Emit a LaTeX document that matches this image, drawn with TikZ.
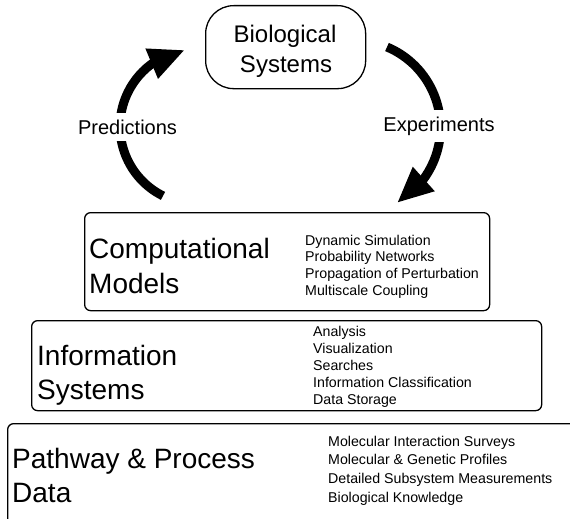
\documentclass[tikz,border=0pt]{standalone}
\usepackage{fontspec}
\setmainfont{Liberation Sans}
\usetikzlibrary{arrows.meta,bending}

\tikzset{
  layer/.style={draw, line width=1.3pt, rounded corners=6pt, anchor=north west, inner sep=0pt},
  big/.style={anchor=base west, inner sep=0pt, font=\fontsize{28}{34}\selectfont},
  item/.style={anchor=base west, inner sep=0pt, font=\fontsize{14.2}{17}\selectfont},
  toptext/.style={anchor=base, inner sep=0pt, font=\fontsize{24}{29}\selectfont},
  cycle/.style={line width=9pt, -{Triangle[length=36pt,width=30pt,flex]}},
  cyclabel/.style={fill=white, inner xsep=2pt, inner ysep=7pt, font=\fontsize{20}{24}\selectfont},
}

\begin{document}
\begin{tikzpicture}[x=1pt, y=-1pt]
  \path[use as bounding box, clip] (0,0) rectangle (570,519);
  \fill[white] (0,0) rectangle (570,519);

  % top of the cycle
  \node[draw, line width=1.3pt, rounded corners=28pt, minimum width=160pt, minimum height=83pt,
        inner sep=0pt, anchor=north west] (bio) at (205,5) {};
  \node[toptext] (bio1) at (285,43) {Biological};
  \node[toptext] (bio2) at (286,72) {Systems};

  % the three stacked layers
  \node[layer, minimum width=405pt, minimum height=98pt] (comp) at (84,212) {};
  \node[layer, minimum width=510pt, minimum height=90pt] (info) at (31,320) {};
  \node[layer, minimum width=620pt, minimum height=140pt] (data) at (7,423) {};

  % layer titles
  \node[big] (comp1) at (89,258) {Computational};
  \node[big] (comp2) at (89,293) {Models};
  \node[big] (info1) at (37,365) {Information};
  \node[big] (info2) at (37,399) {Systems};
  \node[big] (data1) at (12,468) {Pathway \& Process};
  \node[big] (data2) at (12,502) {Data};

  % layer contents
  \foreach \t [count=\i] in {Dynamic Simulation, Probability Networks,
      Propagation of Perturbation, Multiscale Coupling}
    \node[item] (ci\i) at (305,{245+16.7*(\i-1)}) {\t};
  \foreach \t [count=\i] in {Analysis, Visualization, Searches,
      Information Classification, Data Storage}
    \node[item] (ii\i) at (313,{336+17.2*(\i-1)}) {\t};
  \foreach \t [count=\i] in {Molecular Interaction Surveys, Molecular \& Genetic Profiles,
      Detailed Subsystem Measurements, Biological Knowledge}
    \node[item] (di\i) at (328,{446+18.7*(\i-1)}) {\t};

  % the cycle arrows
  \coordinate (predfrom) at (163,195.9);
  \coordinate (expfrom) at (387,47);
  \draw[cycle] (predfrom) arc[start angle=116.5, end angle=260.6, radius=77.6];
  \draw[cycle] (expfrom) arc[start angle=-67.2, end angle=59.9, radius=87.3];

  \node[cyclabel] (pred) at (127.5,127) {Predictions};
  \node[cyclabel] (exp) at (439,126) {Experiments};
\end{tikzpicture}
\end{document}
